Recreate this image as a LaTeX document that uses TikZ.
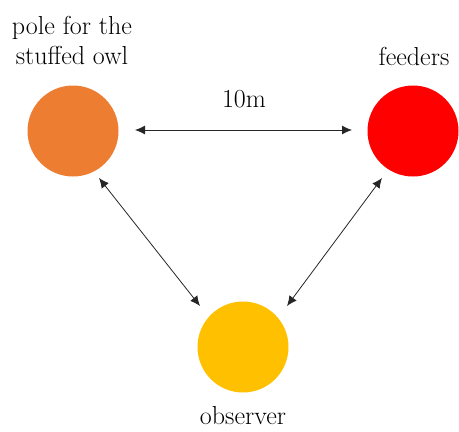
\documentclass[tikz,border=0pt]{standalone}
\usetikzlibrary{arrows.meta}
\definecolor{owlorange}{HTML}{ED7D31}
\definecolor{feedred}{HTML}{FF0000}
\definecolor{obsyellow}{HTML}{FFC000}
\begin{document}
\begin{tikzpicture}[x=1pt,y=-1pt,
  spot/.style={circle,minimum size=91pt,inner sep=0pt,draw=none},
  lbl/.style={font=\rmfamily\fontsize{26}{30}\selectfont,align=center,inner sep=0pt},
  link/.style={{Latex[length=10pt,width=9pt]}-{Latex[length=10pt,width=9pt]},line width=0.8pt,draw=black!85}]
\useasboundingbox (0,0) rectangle (459,432);
\node[spot,fill=owlorange] (owl) at (73,131) {};
\node[spot,fill=feedred] (feed) at (413,131) {};
\node[spot,fill=obsyellow] (obs) at (243,347) {};
\node[lbl] (owltxt) at (72,40) {pole for the\\stuffed owl};
\node[lbl] (feedtxt) at (414,56) {feeders};
\node[lbl] (dist) at (244,99) {10m};
\node[lbl] (obstxt) at (243,416) {observer};
\coordinate (h1) at (135,130);
\coordinate (h2) at (352,130);
\coordinate (l1) at (99,178);
\coordinate (l2) at (200,306);
\coordinate (r1) at (382,178);
\coordinate (r2) at (287,306);
\draw[link] (h1) -- (h2);
\draw[link] (l1) -- (l2);
\draw[link] (r1) -- (r2);
\end{tikzpicture}
\end{document}
